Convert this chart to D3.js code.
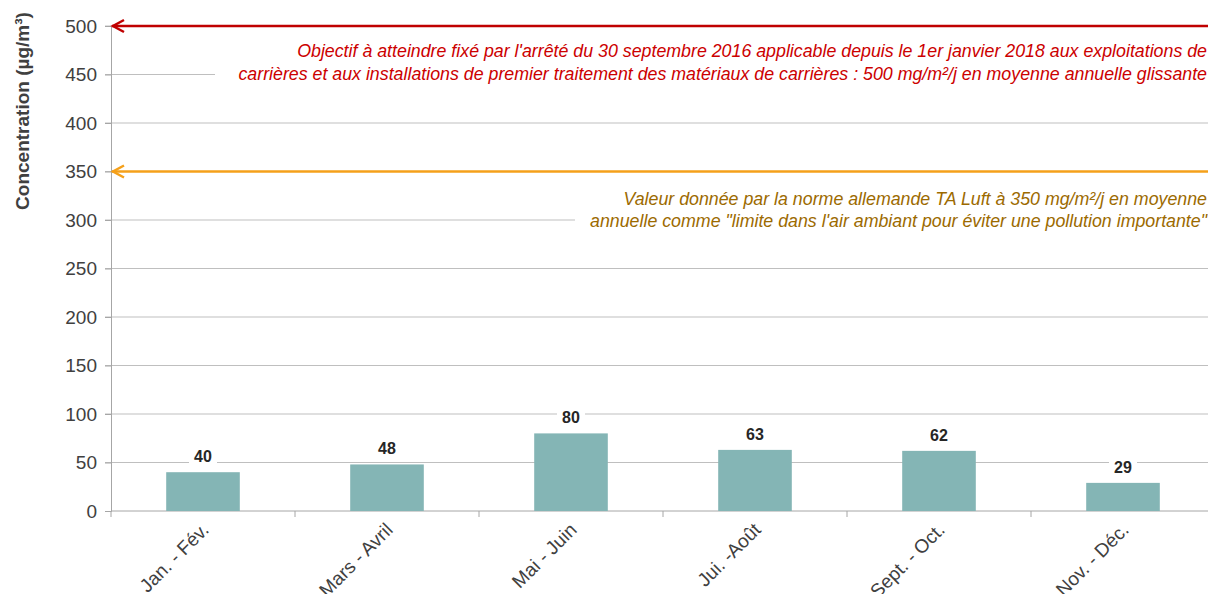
<!DOCTYPE html>
<meta charset="utf-8">
<style>
body { margin: 0; background: #fff; }
svg { display: block; font-family: "Liberation Sans", Arial, sans-serif; }
.grid line { stroke: #bfbfbf; }
.bar { fill: #84b5b5; }
</style>
<body>
<script src="https://cdn.jsdelivr.net/npm/d3@7"></script>
<script>
// data
var categories = ["Jan. - Fév.", "Mars - Avril", "Mai - Juin", "Jui. -Août", "Sept. - Oct.", "Nov. - Déc."];
var values = [40, 48, 80, 63, 62, 29];
var yTicks = [0, 50, 100, 150, 200, 250, 300, 350, 400, 450, 500];
var limits = [500, 350];
var limitColors = ["#c00000", "#f5a01a"];
var limitTextColors = ["#cc0000", "#9c6a00"];
var limitTexts = [
  ["Objectif à atteindre fixé par l'arrêté du 30 septembre 2016 applicable depuis le 1er janvier 2018 aux exploitations de",
   "carrières et aux installations de premier traitement des matériaux de carrières : 500 mg/m²/j en moyenne annuelle glissante"],
  ["Valeur donnée par la norme allemande TA Luft à 350 mg/m²/j en moyenne",
   "annuelle comme \"limite dans l'air ambiant pour éviter une pollution importante\""]
];

var margin = {top: 26, left: 111},
    width = 1104,
    height = 485;

var svg = d3.select("body").append("svg")
    .attr("width", 1208)
    .attr("height", 594);
var g = svg.append("g")
    .attr("transform", "translate(" + margin.left + "," + margin.top + ")");

var x = d3.scaleBand().domain(categories).range([0, width]).paddingInner(0.6).paddingOuter(0.3);
var x0 = d3.scaleBand().domain(categories).range([0, width]);
var y = d3.scaleLinear().domain([0, 500]).range([height, 0]);

// gridlines
g.append("g").attr("class", "grid")
  .selectAll("line").data(yTicks.filter(function(d) { return d > 0; }))
  .enter().append("line")
    .attr("x1", -6).attr("x2", width)
    .attr("y1", function(d) { return y(d); })
    .attr("y2", function(d) { return y(d); });

// y axis
var yAxis = g.append("g")
    .call(d3.axisLeft(y).tickValues(yTicks).tickSize(6).tickPadding(8));
yAxis.select(".domain").attr("stroke", "#a6a6a6");
yAxis.selectAll(".tick line").attr("stroke", "#a6a6a6");
yAxis.selectAll("text").style("font-size", "19px").attr("fill", "#404040")
    .style("font-family", "'Liberation Sans', Arial, sans-serif");

svg.append("text")
    .attr("transform", "translate(29,111) rotate(-90)")
    .attr("text-anchor", "middle")
    .style("font-size", "19px").style("font-weight", "bold")
    .attr("fill", "#404040")
    .text("Concentration (µg/m³)");

// x axis
g.append("line")
    .attr("x1", 0).attr("x2", width)
    .attr("y1", height).attr("y2", height)
    .attr("stroke", "#a6a6a6");
g.selectAll(".xtick")
  .data(categories.concat(["end"]))
  .enter().append("line")
    .attr("x1", function(d, i) { return i * x0.step(); })
    .attr("x2", function(d, i) { return i * x0.step(); })
    .attr("y1", height).attr("y2", height + 6)
    .attr("stroke", "#a6a6a6");
g.selectAll(".xlabel")
  .data(categories)
  .enter().append("text")
    .attr("text-anchor", "end")
    .attr("transform", function(d) {
      return "translate(" + (x0(d) + x0.bandwidth() / 2 + 7) + "," + (height + 20) + ") rotate(-45)";
    })
    .style("font-size", "19px")
    .attr("fill", "#404040")
    .text(function(d) { return d; });

// limit text boxes (white background hides gridlines)
var boxes = [
  {x: 104, y: 36, w: 1000, h: 50, tx: 1096, ty: [57, 80]},
  {x: 464, y: 186, w: 640, h: 44, tx: 1096, ty: [205, 227]}
];
boxes.forEach(function(b, i) {
  g.append("rect")
    .attr("x", b.x).attr("y", b.y - margin.top)
    .attr("width", b.w).attr("height", b.h)
    .attr("fill", "#fff");
  limitTexts[i].forEach(function(t, j) {
    g.append("text")
      .attr("x", b.tx).attr("y", b.ty[j] - margin.top)
      .attr("text-anchor", "end")
      .style("font-size", "17.8px").style("font-style", "italic")
      .attr("fill", limitTextColors[i])
      .text(t);
  });
});

// limit lines with arrow heads
limits.forEach(function(v, i) {
  g.append("line")
    .attr("x1", 1).attr("x2", width)
    .attr("y1", y(v)).attr("y2", y(v))
    .attr("stroke", limitColors[i]).attr("stroke-width", 2.5);
  g.append("path")
    .attr("d", "M13," + (y(v) - 6) + "L2," + y(v) + "L13," + (y(v) + 6))
    .attr("fill", "none")
    .attr("stroke", limitColors[i]).attr("stroke-width", 2.5);
});

// bars
g.selectAll(".bar")
  .data(values)
  .enter().append("rect")
    .attr("class", "bar")
    .attr("x", function(d, i) { return x(categories[i]); })
    .attr("width", x.bandwidth())
    .attr("y", function(d) { return y(d); })
    .attr("height", function(d) { return height - y(d); });

// value labels
var lab = g.selectAll(".vlabel")
  .data(values)
  .enter().append("g")
    .attr("transform", function(d, i) {
      return "translate(" + (x(categories[i]) + x.bandwidth() / 2) + "," + (y(d) - 10) + ")";
    });
lab.append("rect")
    .attr("x", -14).attr("y", -17).attr("width", 28).attr("height", 22)
    .attr("fill", "#fff");
lab.append("text")
    .attr("text-anchor", "middle")
    .style("font-size", "16px").style("font-weight", "bold")
    .attr("fill", "#262626")
    .text(function(d) { return d; });
</script>
</body>
